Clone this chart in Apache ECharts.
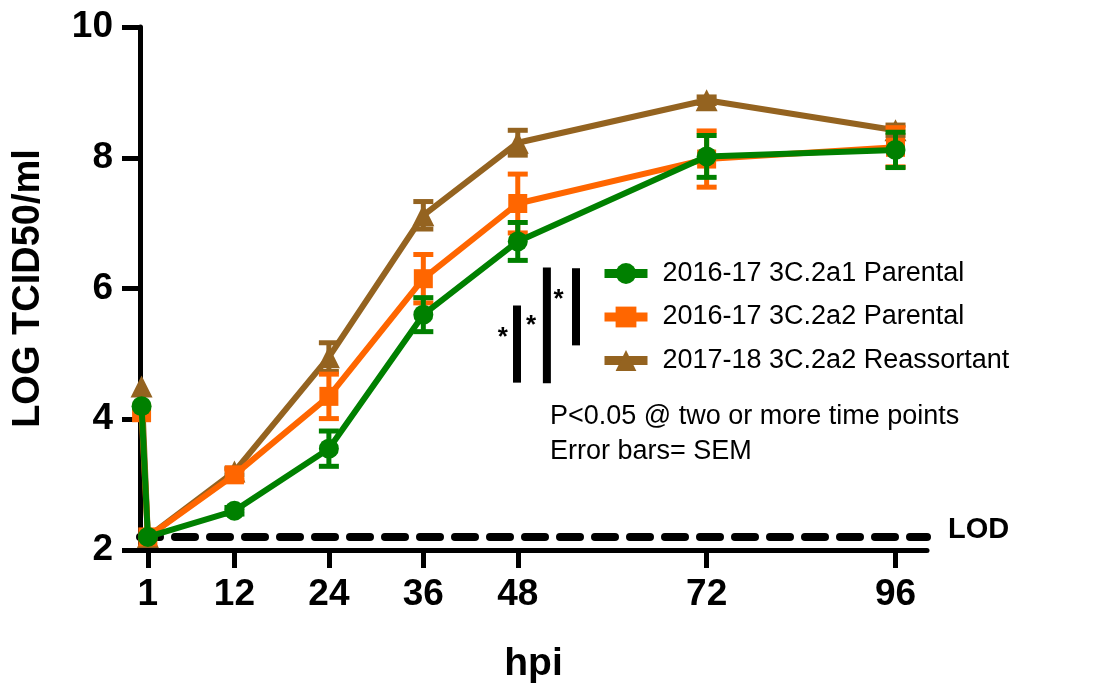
<!DOCTYPE html>
<html>
<head>
<meta charset="utf-8">
<script src="https://cdn.jsdelivr.net/npm/echarts@6/dist/echarts.min.js"></script>
<style>html,body{margin:0;padding:0;background:#fff}#c{width:1100px;height:690px}</style>
</head>
<body>
<div id="c"></div>
<script>
// ---- data ----
const times = [0.2, 1, 12, 24, 36, 48, 72, 96];
const xTicks = [1, 12, 24, 36, 48, 72, 96];
const yTicks = [2, 4, 6, 8, 10];
const seriesNames = ['2016-17 3C.2a1 Parental', '2016-17 3C.2a2 Parental', '2017-18 3C.2a2 Reassortant'];
const green = [4.2, 2.2, 2.6, 3.55, 5.6, 6.72, 8.02, 8.12];
const greenSem = [0, 0, 0.05, 0.27, 0.26, 0.29, 0.32, 0.27];
const orange = [4.1, 2.2, 3.15, 4.35, 6.15, 7.3, 7.98, 8.16];
const orangeSem = [0, 0, 0.08, 0.34, 0.37, 0.45, 0.43, 0.3];
const brown = [4.5, 2.2, 3.2, 4.95, 7.12, 8.23, 8.88, 8.42];
const brownSem = [0, 0, 0.05, 0.22, 0.21, 0.19, 0.05, 0.08];
const LOD = 2.2;
const lodX = [0, 100];
// significance bars (hpi position, low, high) and asterisk positions
const sigX = [47.9, 51.7, 55.4];
const sigLow = [4.56, 4.55, 5.13];
const sigHigh = [5.74, 6.32, 6.31];
const starX = [46.1, 49.7, 53.2];
const starY = [5.36, 5.53, 5.93];
const noteLines = ['P<0.05 @ two or more time points', 'Error bars= SEM'];

const C_GREEN = '#008000', C_ORANGE = '#FF6600', C_BROWN = '#946320';
const FONT = "'Liberation Sans', Arial, Helvetica, sans-serif";

function pairs(v) { return times.map((t, i) => [t, v[i]]); }
function errData(v, s) {
  const out = [];
  times.forEach((t, i) => { if (s[i] > 0) out.push([t, v[i] - s[i], v[i] + s[i]]); });
  return out;
}
function errRender(color) {
  return function (params, api) {
    const x = api.value(0), lo = api.value(1), hi = api.value(2);
    const p1 = api.coord([x, lo]), p2 = api.coord([x, hi]);
    const cw = 10, st = { stroke: color, lineWidth: 5 };
    return { type: 'group', children: [
      { type: 'line', shape: { x1: p1[0], y1: p1[1], x2: p2[0], y2: p2[1] }, style: st },
      { type: 'line', shape: { x1: p1[0] - cw, y1: p1[1], x2: p1[0] + cw, y2: p1[1] }, style: st },
      { type: 'line', shape: { x1: p2[0] - cw, y1: p2[1], x2: p2[0] + cw, y2: p2[1] }, style: st }
    ]};
  };
}
function lineSeries(name, color, symbol, size, vals, z) {
  return {
    name, type: 'line', data: pairs(vals), symbol, symbolSize: size, z,
    showAllSymbol: true, clip: false,
    lineStyle: { color, width: 6 }, itemStyle: { color, opacity: 1 }
  };
}
function errSeries(color, v, s, z) {
  return { type: 'custom', renderItem: errRender(color), data: errData(v, s), z, clip: false,
    encode: { x: 0, y: [1, 2] }, silent: true };
}

const chart = echarts.init(document.getElementById('c'));
chart.setOption({
  animation: false,
  backgroundColor: '#fff',
  grid: { left: 140, right: 173, top: 27, bottom: 140 },
  xAxis: {
    type: 'value', min: 0, max: 100,
    name: 'hpi', nameLocation: 'middle', nameGap: 95,
    nameTextStyle: { fontFamily: FONT, fontWeight: 'bold', fontSize: 39, color: '#000' },
    axisLine: { lineStyle: { color: '#000', width: 5 } },
    axisTick: { show: true, inside: false, customValues: xTicks, length: 18, lineStyle: { color: '#000', width: 5 } },
    axisLabel: { customValues: xTicks, fontFamily: FONT, fontWeight: 'bold', fontSize: 37, color: '#000', margin: 26 },
    splitLine: { show: false }
  },
  yAxis: {
    type: 'value', min: 2, max: 10, interval: 2,
    name: 'LOG TCID50/ml', nameLocation: 'middle', nameGap: 92,
    nameTextStyle: { fontFamily: FONT, fontWeight: 'bold', fontSize: 38, color: '#000' },
    axisLine: { show: true, lineStyle: { color: '#000', width: 5 } },
    axisTick: { show: true, inside: false, length: 18, lineStyle: { color: '#000', width: 5 } },
    axisLabel: { customValues: yTicks, fontFamily: FONT, fontWeight: 'bold', fontSize: 37, color: '#000', margin: 27 },
    splitLine: { show: false }
  },
  legend: {
    data: seriesNames, orient: 'vertical', left: 595, top: 255,
    itemWidth: 43, itemHeight: 26, itemGap: 16.5,
    lineStyle: { width: 9 },
    textStyle: { fontFamily: FONT, fontSize: 27, color: '#000', lineHeight: 26, padding: [0, 0, 0, 10] },
    selectedMode: false
  },
  graphic: noteLines.map((t, i) => ({
    type: 'text', left: 550, top: 403 + i * 35,
    style: { text: t, fontFamily: FONT, fontSize: 27, fill: '#000' }
  })),
  series: [
    {
      name: 'LOD', type: 'line', data: lodX.map(x => [x, LOD]), symbol: 'none', z: 1,
      lineStyle: { color: '#000', width: 8, type: [20, 15], cap: 'round' },
      endLabel: { show: true, formatter: 'LOD', fontFamily: FONT, fontWeight: 'bold', fontSize: 29, color: '#000', distance: 21, offset: [0, -7] },
      silent: true
    },
    errSeries(C_BROWN, brown, brownSem, 2),
    lineSeries(seriesNames[2], C_BROWN, 'triangle', 22, brown, 2),
    errSeries(C_ORANGE, orange, orangeSem, 3),
    lineSeries(seriesNames[1], C_ORANGE, 'rect', 19, orange, 3),
    errSeries(C_GREEN, green, greenSem, 4),
    lineSeries(seriesNames[0], C_GREEN, 'circle', 20, green, 4),
    {
      type: 'custom', z: 5, silent: true, clip: false,
      data: sigX.map((x, i) => [x, sigLow[i], sigHigh[i], starX[i], starY[i]]),
      encode: { x: 0, y: [1, 2] },
      renderItem: function (params, api) {
        const p1 = api.coord([api.value(0), api.value(1)]);
        const p2 = api.coord([api.value(0), api.value(2)]);
        const ps = api.coord([api.value(3), api.value(4)]);
        return { type: 'group', children: [
          { type: 'rect', shape: { x: p1[0] - 4, y: p2[1], width: 8, height: p1[1] - p2[1] }, style: { fill: '#000' } },
          { type: 'text', x: ps[0], y: ps[1] + 7, style: { text: '*', fontFamily: FONT, fontWeight: 'bold', fontSize: 26, fill: '#000', align: 'center', verticalAlign: 'middle' } }
        ]};
      }
    }
  ]
});
</script>
</body>
</html>
